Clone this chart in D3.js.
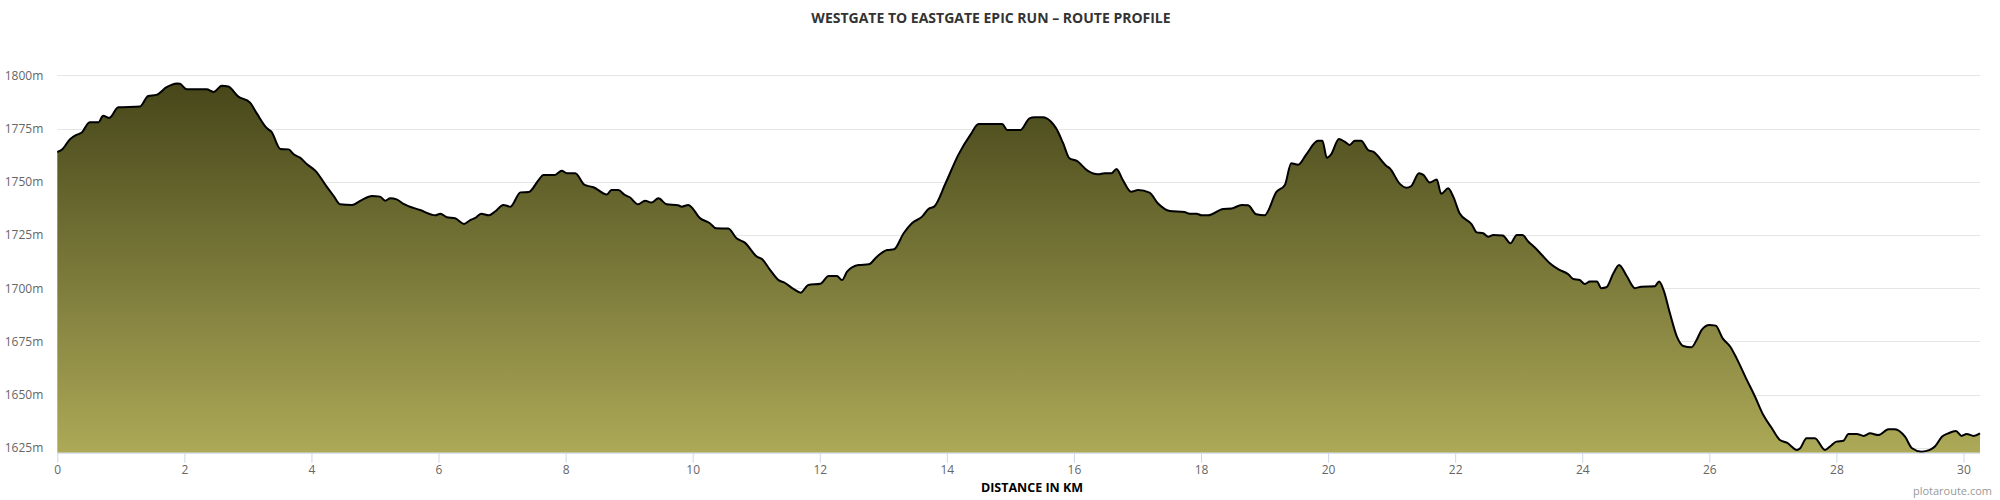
<!DOCTYPE html>
<html>
<head>
<meta charset="utf-8">
<script src="https://cdn.jsdelivr.net/npm/d3@7"></script>
<style>
  html, body { margin: 0; padding: 0; background: #fff; }
  svg { display: block; }
</style>
</head>
<body>
<svg id="chart" width="2000" height="500"></svg>
<script>
// ---- DATA ----
const distanceKm = [0,0.07,0.2,0.3,0.38,0.51,0.65,0.72,0.82,0.96,1.3,1.43,1.56,1.72,1.88,1.93,2.04,2.35,2.46,2.59,2.69,2.85,3.03,3.14,3.3,3.37,3.51,3.64,3.72,3.82,3.93,4.06,4.24,4.35,4.45,4.64,4.79,4.95,5.08,5.16,5.24,5.34,5.45,5.71,5.95,6.03,6.13,6.26,6.4,6.5,6.58,6.67,6.79,6.89,7.02,7.13,7.29,7.42,7.58,7.65,7.83,7.94,8.02,8.15,8.3,8.44,8.65,8.72,8.83,8.93,9.01,9.14,9.25,9.35,9.46,9.59,9.77,9.83,9.93,10.12,10.27,10.37,10.56,10.69,10.82,11.01,11.09,11.22,11.35,11.43,11.59,11.7,11.82,12.01,12.14,12.27,12.35,12.43,12.61,12.77,12.9,13.06,13.17,13.32,13.45,13.61,13.71,13.8,13.98,14.18,14.37,14.5,14.87,14.95,15.16,15.3,15.38,15.51,15.64,15.72,15.83,15.93,16.04,16.22,16.38,16.48,16.59,16.67,16.77,16.9,17.01,17.19,17.32,17.51,17.74,17.82,17.93,18.01,18.11,18.35,18.48,18.64,18.74,18.87,19.0,19.19,19.32,19.42,19.53,19.66,19.84,19.91,19.98,20.05,20.17,20.26,20.34,20.42,20.52,20.63,20.71,20.92,20.97,21.13,21.23,21.31,21.43,21.5,21.6,21.71,21.78,21.89,21.97,22.07,22.26,22.34,22.44,22.52,22.6,22.75,22.87,22.97,23.06,23.15,23.25,23.39,23.49,23.62,23.78,23.86,23.96,24.04,24.12,24.23,24.3,24.38,24.49,24.58,24.7,24.83,24.93,25.14,25.21,25.28,25.38,25.49,25.59,25.72,25.8,25.88,26.0,26.1,26.21,26.33,26.43,26.59,26.72,26.85,26.98,27.11,27.22,27.38,27.43,27.53,27.66,27.82,27.9,28.0,28.11,28.19,28.32,28.43,28.53,28.66,28.82,28.92,29.08,29.19,29.34,29.47,29.55,29.66,29.76,29.88,29.97,30.05,30.16,30.26];
const elevationM = [1764,1765,1770,1772,1773,1778,1778,1781,1780,1785,1785.3,1790.3,1790.8,1794.4,1796.2,1796,1793.4,1793.4,1792.2,1795.1,1794.7,1790,1787.3,1782.1,1775.1,1773.5,1765.4,1765.2,1762.9,1761.3,1758.2,1755.2,1747.7,1743.3,1739.4,1739.1,1741.4,1743.3,1743,1741.1,1742.2,1741.7,1739.6,1736.7,1734.2,1735,1733.3,1732.8,1730.2,1732,1733,1735,1734.2,1736,1739.1,1738.3,1745,1745.2,1751,1753.2,1753.2,1755.2,1754,1754,1748.5,1747.4,1744,1746.1,1746.1,1743.8,1742.7,1739.4,1741.1,1740.2,1742.2,1739.4,1738.9,1738.3,1739.1,1732.8,1730.5,1728.1,1728,1723.4,1721.4,1714.8,1713.7,1708.5,1703.8,1702.8,1699.6,1697.9,1701.5,1702.1,1705.7,1705.7,1703.8,1707.8,1710.9,1711.2,1714.8,1717.9,1718.3,1725.8,1730.5,1733.6,1737.2,1738.3,1749.3,1762.6,1772,1777.1,1777.1,1774.3,1774.3,1779.8,1780.3,1780.3,1778.2,1775.1,1768.1,1761,1759.9,1755.1,1753.5,1754,1754,1756,1750.8,1745.3,1746.1,1744.9,1739.9,1736.3,1735.8,1735,1735,1734.2,1734.2,1737.2,1737.4,1739.1,1738.9,1734.7,1734.2,1745.3,1748.5,1758.7,1758,1763,1769.2,1769.2,1761.3,1763,1770.1,1768.8,1767.3,1769.2,1769.2,1764.9,1764.1,1757.4,1756.3,1749,1747.2,1748,1754,1753.2,1749.6,1751.1,1744.3,1746.9,1743,1735.2,1730,1726.2,1725.8,1724.2,1725,1724.7,1721.1,1725,1725,1721.9,1719.2,1714.8,1711.7,1708.9,1706.5,1704.3,1703.8,1702,1703.1,1703.1,1700,1700.4,1707,1710.9,1705.7,1700,1700.7,1700.9,1703.1,1699.1,1688.2,1677.2,1672.8,1672.2,1675.7,1680.4,1682.7,1682.4,1676.4,1672.5,1667,1656.9,1649,1640.4,1634.4,1628.7,1627.4,1624,1624.8,1629.5,1629.5,1624,1625.6,1627.9,1628.3,1631.5,1631.5,1630.6,1631.8,1631,1633.7,1633.7,1630.2,1624.8,1623.2,1624,1625.6,1630.2,1631.8,1632.9,1630.6,1631.5,1630.6,1631.8];
const xTicks = [0,2,4,6,8,10,12,14,16,18,20,22,24,26,28,30];
const yTicks = [1625,1650,1675,1700,1725,1750,1775,1800];
const titleText = "WESTGATE TO EASTGATE EPIC RUN – ROUTE PROFILE";
const xAxisTitle = "DISTANCE IN KM";
const creditText = "plotaroute.com";

// ---- LAYOUT ----
const plotLeft = 57.3, plotRight = 1980, plotBottom = 452.7;
const svg = d3.select("#chart");

const x = d3.scaleLinear().domain([0, 30.26]).range([plotLeft, plotRight]);
const y = d3.scaleLinear().domain([1622.7, 1800]).range([plotBottom, 75.3]);

const data = distanceKm.map((d, i) => ({ d, e: elevationM[i] }));

// gradient
const defs = svg.append("defs");
const grad = defs.append("linearGradient")
  .attr("id", "fillGrad")
  .attr("gradientUnits", "userSpaceOnUse")
  .attr("x1", 0).attr("x2", 0)
  .attr("y1", y(1797)).attr("y2", plotBottom);
grad.append("stop").attr("offset", "0%").attr("stop-color", "#46461a");
grad.append("stop").attr("offset", "100%").attr("stop-color", "#aca957");

// gridlines
svg.append("g").selectAll("line")
  .data(yTicks)
  .join("line")
  .attr("x1", plotLeft).attr("x2", plotRight)
  .attr("y1", d => Math.round(y(d)) + 0.5).attr("y2", d => Math.round(y(d)) + 0.5)
  .attr("stroke", "#e6e6e6").attr("stroke-width", 1);

// area
const curve = d3.curveMonotoneX;
const area = d3.area()
  .x(p => x(p.d))
  .y0(plotBottom)
  .y1(p => y(p.e))
  .curve(curve);
svg.append("path")
  .datum(data)
  .attr("d", area)
  .attr("fill", "url(#fillGrad)");

const line = d3.line()
  .x(p => x(p.d))
  .y(p => y(p.e))
  .curve(curve);
svg.append("path")
  .datum(data)
  .attr("d", line)
  .attr("fill", "none")
  .attr("stroke", "#000")
  .attr("stroke-width", 2)
  .attr("stroke-linejoin", "round");

// x axis
const xAxis = d3.axisBottom(x).tickValues(xTicks).tickSize(10).tickSizeOuter(0).tickPadding(3);
const gx = svg.append("g")
  .attr("transform", `translate(0,${plotBottom})`)
  .call(xAxis);
gx.select(".domain").remove();
gx.append("line")
  .attr("x1", plotLeft).attr("x2", plotRight)
  .attr("y1", 0.5).attr("y2", 0.5)
  .attr("stroke", "#ccd6eb");
gx.selectAll(".tick line").attr("stroke", "#ccd6eb");
gx.selectAll(".tick text")
  .attr("fill", "#666")
  .attr("font-family", "'Open Sans', sans-serif")
  .attr("font-size", "12px");

// y axis labels
const yAxis = d3.axisLeft(y).tickValues(yTicks).tickSize(0).tickPadding(14).tickFormat(d => d + "m");
const gy = svg.append("g")
  .attr("transform", `translate(${plotLeft},0)`)
  .call(yAxis);
gy.select(".domain").remove();
gy.selectAll(".tick text")
  .attr("fill", "#666")
  .attr("font-family", "'Open Sans', sans-serif")
  .attr("font-size", "12px");

// title
svg.append("text")
  .attr("x", 991).attr("y", 22.5)
  .attr("text-anchor", "middle")
  .attr("font-family", "'Open Sans', sans-serif")
  .attr("font-weight", "bold")
  .attr("font-size", "14px")
  .attr("fill", "#333")
  .text(titleText);

// x axis title
svg.append("text")
  .attr("x", 1032).attr("y", 491.5)
  .attr("text-anchor", "middle")
  .attr("font-family", "'Open Sans', sans-serif")
  .attr("font-weight", "bold")
  .attr("font-size", "12.5px")
  .attr("fill", "#000")
  .text(xAxisTitle);

// credit
svg.append("text")
  .attr("x", 1992).attr("y", 495)
  .attr("text-anchor", "end")
  .attr("font-family", "'Open Sans', sans-serif")
  .attr("font-size", "11px")
  .attr("fill", "#999")
  .text(creditText);
</script>
</body>
</html>
